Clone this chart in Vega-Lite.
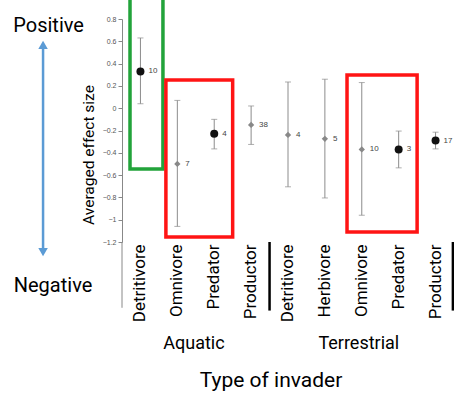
{
  "$schema": "https://vega.github.io/schema/vega-lite/v6.json",
  "width": 332,
  "height": 223,
  "autosize": {"type": "none"},
  "padding": {"left": 122, "top": 19, "right": 0, "bottom": 152},
  "background": "white",
  "config": {
    "view": {"stroke": null},
    "font": "Roboto",
    "axisY": {"labelOverlap": false, "labelFlush": false, "labelBound": false, "format": "~g", "labelFontSize": 7, "labelFont": "Liberation Sans", "labelColor": "#555", "tickColor": "#888", "tickSize": 4, "domainColor": "#888", "grid": false, "labelPadding": 2}
  },
  "datasets": {
    "effects": [
      {"category": "Aquatic Detritivore", "habitat": "Aquatic", "invader": "Detritivore", "mean": 0.33, "lower": 0.04, "upper": 0.63, "n": 10, "significant": "yes"},
      {"category": "Aquatic Omnivore", "habitat": "Aquatic", "invader": "Omnivore", "mean": -0.5, "lower": -1.06, "upper": 0.07, "n": 7, "significant": "no"},
      {"category": "Aquatic Predator", "habitat": "Aquatic", "invader": "Predator", "mean": -0.23, "lower": -0.365, "upper": -0.1, "n": 4, "significant": "yes"},
      {"category": "Aquatic Productor", "habitat": "Aquatic", "invader": "Productor", "mean": -0.15, "lower": -0.325, "upper": 0.02, "n": 38, "significant": "no"},
      {"category": "Terrestrial Detritivore", "habitat": "Terrestrial", "invader": "Detritivore", "mean": -0.24, "lower": -0.705, "upper": 0.235, "n": 4, "significant": "no"},
      {"category": "Terrestrial Herbivore", "habitat": "Terrestrial", "invader": "Herbivore", "mean": -0.275, "lower": -0.805, "upper": 0.26, "n": 5, "significant": "no"},
      {"category": "Terrestrial Omnivore", "habitat": "Terrestrial", "invader": "Omnivore", "mean": -0.37, "lower": -0.96, "upper": 0.23, "n": 10, "significant": "no"},
      {"category": "Terrestrial Predator", "habitat": "Terrestrial", "invader": "Predator", "mean": -0.37, "lower": -0.535, "upper": -0.205, "n": 3, "significant": "yes"},
      {"category": "Terrestrial Productor", "habitat": "Terrestrial", "invader": "Productor", "mean": -0.29, "lower": -0.365, "upper": -0.215, "n": 17, "significant": "yes"}
    ]
  },
  "layer": [
    {
      "data": {"name": "effects"},
      "encoding": {
        "x": {
          "field": "category", "type": "nominal",
          "scale": {"paddingInner": 0, "paddingOuter": 0},
          "axis": {
            "title": null, "labelExpr": "split(datum.label, ' ')[1]",
            "labelAngle": 270, "labelFontSize": 17, "labelFont": "Roboto",
            "labelColor": "black", "labelPadding": 2, "ticks": false, "domain": false,
            "grid": false, "labelBound": false, "labelOverlap": false
          }
        }
      },
      "layer": [
        {
          "mark": {"type": "rule", "color": "#8c8c8c", "strokeWidth": 1},
          "encoding": {
            "y": {
              "field": "lower", "type": "quantitative",
              "scale": {"domain": [-1.2, 0.8], "nice": false, "zero": false},
              "axis": {"title": null, "values": [-1.2, -1, -0.8, -0.6, -0.4, -0.2, 0, 0.2, 0.4, 0.6, 0.8], "format": "~g", "labelOverlap": false}
            },
            "y2": {"field": "upper"}
          }
        },
        {
          "mark": {"type": "rule", "color": "black", "strokeWidth": 1},
          "encoding": {
            "x": {"field": "category", "type": "nominal"},
            "y": {"datum": 0, "type": "quantitative", "axis": {"title": null, "values": [-1.2, -1, -0.8, -0.6, -0.4, -0.2, 0, 0.2, 0.4, 0.6, 0.8], "format": "~g", "labelOverlap": false}}
          }
        },
        {
          "mark": {"type": "tick", "orient": "horizontal", "size": 6, "thickness": 1, "color": "#8c8c8c"},
          "encoding": {"y": {"field": "lower", "type": "quantitative", "axis": {"title": null, "values": [-1.2, -1, -0.8, -0.6, -0.4, -0.2, 0, 0.2, 0.4, 0.6, 0.8], "format": "~g", "labelOverlap": false}}}
        },
        {
          "mark": {"type": "tick", "orient": "horizontal", "size": 6, "thickness": 1, "color": "#8c8c8c"},
          "encoding": {"y": {"field": "upper", "type": "quantitative", "axis": {"title": null, "values": [-1.2, -1, -0.8, -0.6, -0.4, -0.2, 0, 0.2, 0.4, 0.6, 0.8], "format": "~g", "labelOverlap": false}}}
        },
        {
          "mark": {"type": "point", "filled": true, "opacity": 1},
          "encoding": {
            "y": {"field": "mean", "type": "quantitative", "axis": {"title": null, "values": [-1.2, -1, -0.8, -0.6, -0.4, -0.2, 0, 0.2, 0.4, 0.6, 0.8], "format": "~g", "labelOverlap": false}},
            "shape": {"field": "significant", "type": "nominal", "scale": {"domain": ["yes", "no"], "range": ["circle", "diamond"]}, "legend": null},
            "color": {"field": "significant", "type": "nominal", "scale": {"domain": ["yes", "no"], "range": ["#111111", "#888888"]}, "legend": null},
            "size": {"field": "significant", "type": "nominal", "scale": {"domain": ["yes", "no"], "range": [64, 40]}, "legend": null}
          }
        },
        {
          "mark": {"type": "text", "align": "left", "baseline": "middle", "dx": 8, "fontSize": 8, "font": "Liberation Sans", "color": "#444444"},
          "encoding": {
            "y": {"field": "mean", "type": "quantitative", "axis": {"title": null, "values": [-1.2, -1, -0.8, -0.6, -0.4, -0.2, 0, 0.2, 0.4, 0.6, 0.8], "format": "~g", "labelOverlap": false}},
            "text": {"field": "n", "type": "quantitative"}
          }
        }
      ]
    },
    {
      "data": {"values": [{"x": 4, "y": -1.2, "y2": -1.815}, {"x": 8.97, "y": -1.2, "y2": -1.815}]},
      "mark": {"type": "rule", "color": "black", "strokeWidth": 2.5},
      "encoding": {
        "x": {"field": "x", "type": "quantitative", "scale": {"domain": [0, 9], "nice": false, "zero": false}, "axis": null},
        "y": {"field": "y", "type": "quantitative", "scale": {"domain": [-1.2, 0.8], "nice": false, "zero": false}, "axis": null},
        "y2": {"field": "y2"}
      }
    },
    {
      "data": {"values": [{"x": 0, "y": -1.2, "y2": -1.79}]},
      "mark": {"type": "rule", "color": "#888", "strokeWidth": 1},
      "encoding": {
        "x": {"field": "x", "type": "quantitative", "scale": {"domain": [0, 9], "nice": false, "zero": false}, "axis": null},
        "y": {"field": "y", "type": "quantitative", "scale": {"domain": [-1.2, 0.8], "nice": false, "zero": false}, "axis": null},
        "y2": {"field": "y2"}
      }
    },
    {
      "data": {"values": [
        {"effect": "positive", "x": 0.217, "x2": 1.11, "y": -0.545, "y2": 1.0},
        {"effect": "negative", "x": 1.19, "x2": 3.0, "y": -1.155, "y2": 0.253},
        {"effect": "negative", "x": 6.1, "x2": 8.0, "y": -1.11, "y2": 0.298}
      ]},
      "mark": {"type": "rect", "filled": false, "strokeWidth": 3.5},
      "encoding": {
        "x": {"field": "x", "type": "quantitative", "scale": {"domain": [0, 9], "nice": false, "zero": false}, "axis": null},
        "x2": {"field": "x2"},
        "y": {"field": "y", "type": "quantitative", "scale": {"domain": [-1.2, 0.8], "nice": false, "zero": false}, "axis": null},
        "y2": {"field": "y2"},
        "stroke": {"field": "effect", "type": "nominal", "scale": {"domain": ["positive", "negative"], "range": ["#22a33a", "#ff1414"]}, "legend": null}
      }
    },
    {
      "data": {"values": [{"label": "Aquatic", "x": 1.95, "y": -2.162}, {"label": "Terrestrial", "x": 6.42, "y": -2.162}]},
      "mark": {"type": "text", "align": "center", "baseline": "alphabetic", "fontSize": 18, "font": "Roboto", "color": "black"},
      "encoding": {
        "x": {"field": "x", "type": "quantitative", "scale": {"domain": [0, 9], "nice": false, "zero": false}, "axis": null},
        "y": {"field": "y", "type": "quantitative", "scale": {"domain": [-1.2, 0.8], "nice": false, "zero": false}, "axis": null},
        "text": {"field": "label"}
      }
    },
    {
      "data": {"values": [{"label": "Type of invader", "x": 4.04, "y": -2.498}]},
      "mark": {"type": "text", "align": "center", "baseline": "alphabetic", "fontSize": 21, "font": "Roboto", "color": "black"},
      "encoding": {
        "x": {"field": "x", "type": "quantitative", "scale": {"domain": [0, 9], "nice": false, "zero": false}, "axis": null},
        "y": {"field": "y", "type": "quantitative", "scale": {"domain": [-1.2, 0.8], "nice": false, "zero": false}, "axis": null},
        "text": {"field": "label"}
      }
    },
    {
      "data": {"values": [{"label": "Averaged effect size", "x": -0.76, "y": -0.42}]},
      "mark": {"type": "text", "align": "center", "baseline": "alphabetic", "angle": 270, "fontSize": 15.5, "font": "Roboto", "color": "black"},
      "encoding": {
        "x": {"field": "x", "type": "quantitative", "scale": {"domain": [0, 9], "nice": false, "zero": false}, "axis": null},
        "y": {"field": "y", "type": "quantitative", "scale": {"domain": [-1.2, 0.8], "nice": false, "zero": false}, "axis": null},
        "text": {"field": "label"}
      }
    },
    {
      "data": {"values": [{"label": "Positive", "x": -1.99, "y": 0.681}, {"label": "Negative", "x": -1.87, "y": -1.646}]},
      "mark": {"type": "text", "align": "center", "baseline": "alphabetic", "fontSize": 20, "font": "Roboto", "color": "black"},
      "encoding": {
        "x": {"field": "x", "type": "quantitative", "scale": {"domain": [0, 9], "nice": false, "zero": false}, "axis": null},
        "y": {"field": "y", "type": "quantitative", "scale": {"domain": [-1.2, 0.8], "nice": false, "zero": false}, "axis": null},
        "text": {"field": "label"}
      }
    },
    {
      "data": {"values": [{"x": -2.14, "y": 0.57, "y2": -1.29}]},
      "mark": {"type": "rule", "color": "#5b9bd5", "strokeWidth": 2.5},
      "encoding": {
        "x": {"field": "x", "type": "quantitative", "scale": {"domain": [0, 9], "nice": false, "zero": false}, "axis": null},
        "y": {"field": "y", "type": "quantitative", "scale": {"domain": [-1.2, 0.8], "nice": false, "zero": false}, "axis": null},
        "y2": {"field": "y2"}
      }
    },
    {
      "data": {"values": [{"dir": "up", "x": -2.14, "y": 0.567}, {"dir": "down", "x": -2.14, "y": -1.29}]},
      "mark": {"type": "point", "filled": true, "opacity": 1, "color": "#5b9bd5", "size": 90},
      "encoding": {
        "x": {"field": "x", "type": "quantitative", "scale": {"domain": [0, 9], "nice": false, "zero": false}, "axis": null},
        "y": {"field": "y", "type": "quantitative", "scale": {"domain": [-1.2, 0.8], "nice": false, "zero": false}, "axis": null},
        "shape": {"field": "dir", "type": "nominal", "scale": {"domain": ["up", "down"], "range": ["triangle-up", "triangle-down"]}, "legend": null}
      }
    }
  ],
  "resolve": {"scale": {"x": "independent", "y": "independent", "shape": "independent", "color": "independent", "size": "independent"}}
}
